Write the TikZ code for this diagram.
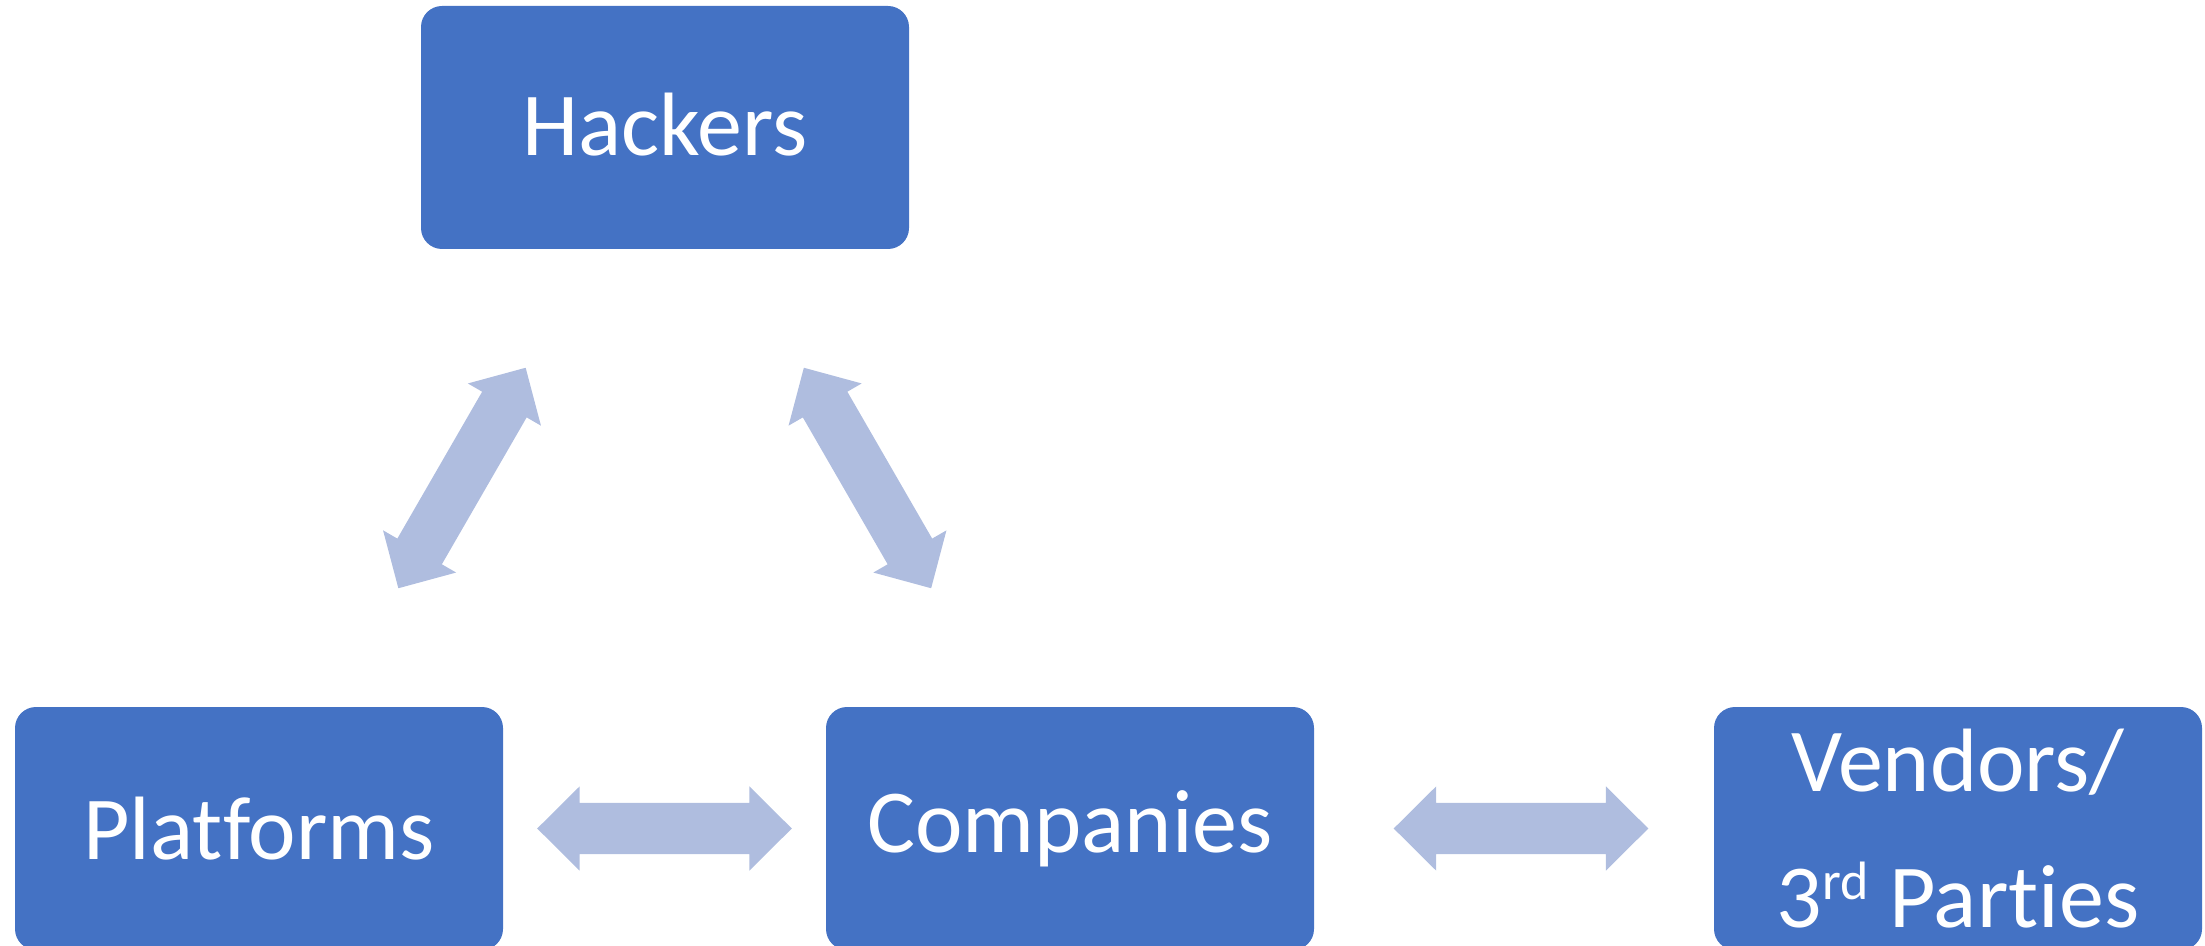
\documentclass[tikz,border=0pt]{standalone}
\usepackage{fontspec}
\setmainfont{Carlito}[Ligatures=NoCommon]
\usetikzlibrary{calc}
\definecolor{boxblue}{RGB}{68,114,196}
\definecolor{arrowblue}{RGB}{175,189,223}
\tikzset{
  box/.style={rectangle, rounded corners=10.5pt, fill=boxblue, text=white,
    minimum width=244pt, minimum height=121.5pt, inner sep=0pt, align=center,
    font=\fontsize{45}{68}\selectfont},
  dbl/.pic={\fill[arrowblue] (-127.3,0) -- (-84.8,-42.2) -- (-84.8,-25.7) -- (84.8,-25.7)
    -- (84.8,-42.2) -- (127.3,0) -- (84.8,42.2) -- (84.8,25.7) -- (-84.8,25.7)
    -- (-84.8,42.2) -- cycle;}
}
\begin{document}
\begin{tikzpicture}[x=0.5pt,y=-0.5pt]
\useasboundingbox (0,0) rectangle (2205,946);
\node[box] (H) at (665,127.5) {\raisebox{3pt}{Hackers}};
\node[box] (P) at (259,828.5) {Platforms};
\node[box] (C) at (1070,828.5) {Companies};
\node[box] (V) at (1958,828.5) {Vendors/\\3\raisebox{14pt}{\fontsize{27}{27}\selectfont rd} Parties};
\pic[rotate=60] at ($(P.center)!0.5!(H.center)$) {dbl};
\pic[rotate=-60] at ($(H.center)!0.5!(C.center)$) {dbl};
\pic at ($(P.center)!0.5!(C.center)$) {dbl};
\pic at ($(C.center)!0.5!(V.center)+(7,0)$) {dbl};
\end{tikzpicture}
\end{document}
